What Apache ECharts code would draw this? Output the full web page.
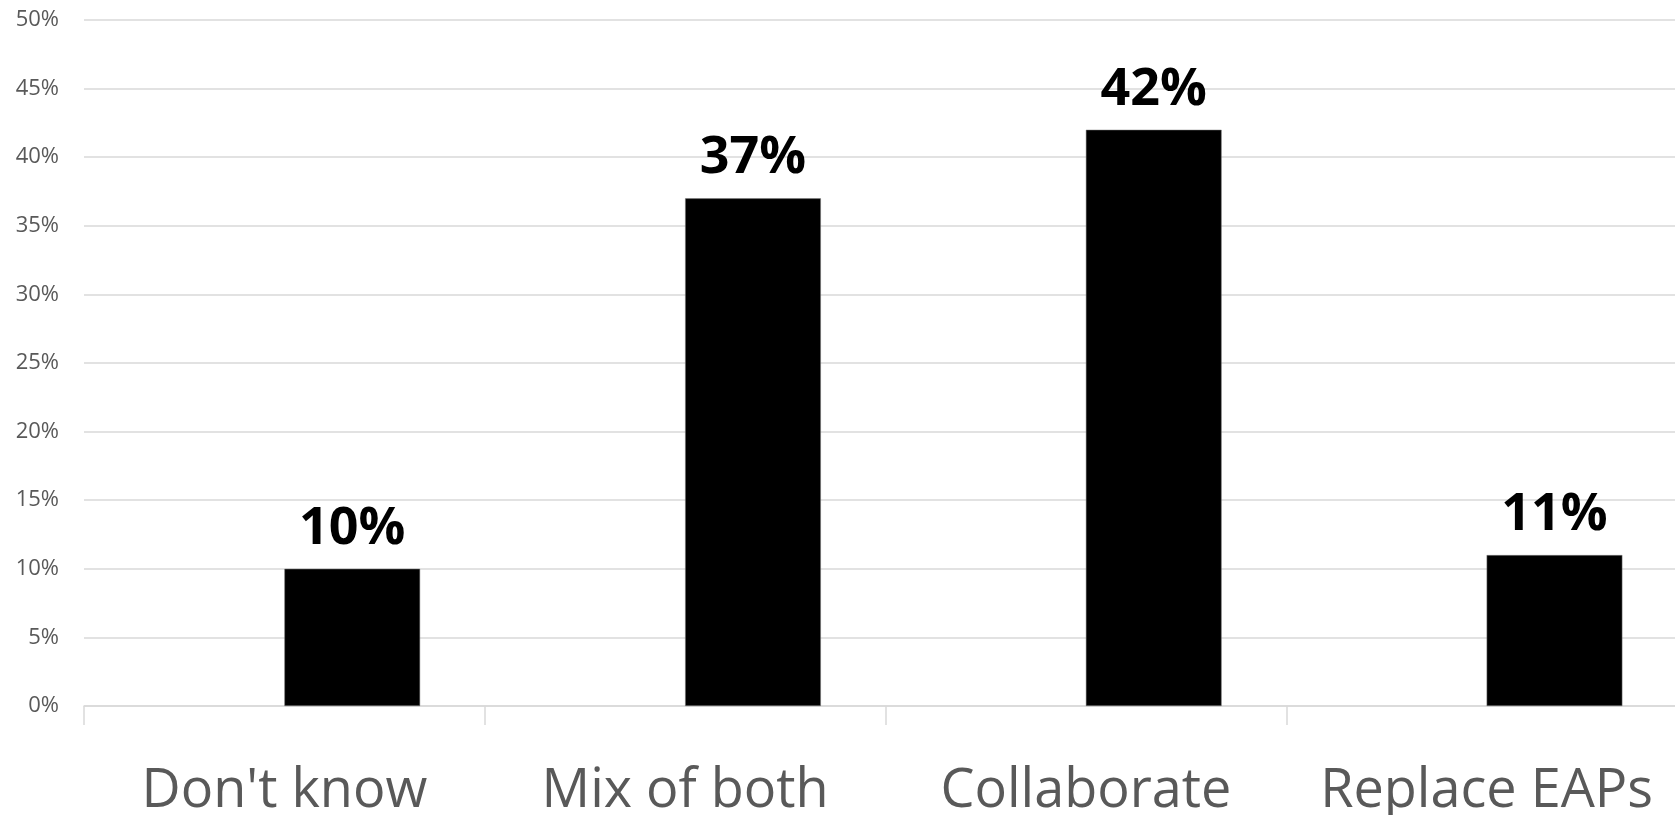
<!DOCTYPE html>
<html>
<head>
<meta charset="utf-8">
<script src="https://cdn.jsdelivr.net/npm/echarts@6/dist/echarts.min.js"></script>
<style>
html,body{margin:0;padding:0;background:#fff;}
#chart{width:1675px;height:815px;}
</style>
</head>
<body>
<div id="chart"></div>
<script>
const categories = ["Don't know", "Mix of both", "Collaborate", "Replace EAPs"];
const values = [10, 37, 42, 11];
const placeholder = [null, null, null, null];
const yTicks = { min: 0, max: 50, interval: 5 };

const chart = echarts.init(document.getElementById('chart'));
chart.setOption({
  animation: false,
  backgroundColor: '#ffffff',
  grid: { left: 84, right: -12, top: 20, bottom: 109, containLabel: false, outerBoundsMode: 'none' },
  xAxis: {
    type: 'category',
    data: categories,
    axisLine: { show: true, lineStyle: { color: '#d9d9d9', width: 1.5 } },
    axisTick: { show: true, interval: 0, length: 19, lineStyle: { color: '#d9d9d9', width: 1.5 } },
    axisLabel: { interval: 0, color: '#595959', fontFamily: 'Open Sans', fontSize: 54, margin: 59, hideOverlap: false }
  },
  yAxis: {
    type: 'value',
    min: yTicks.min, max: yTicks.max, interval: yTicks.interval,
    axisLine: { show: false },
    axisTick: { show: false },
    splitLine: { lineStyle: { color: '#d9d9d9', width: 1.5 } },
    axisLabel: { color: '#595959', fontFamily: 'Open Sans', fontSize: 22, margin: 25, formatter: '{value}%' }
  },
  series: [
    { type: 'bar', data: placeholder, barWidth: '33.87%', barGap: '0%', itemStyle: { color: '#000' } },
    {
      type: 'bar', data: values, barWidth: '33.87%', barGap: '0%',
      itemStyle: { color: '#000', borderColor: '#7f7f7f', borderWidth: 0.5 },
      label: {
        show: true, position: 'top', distance: 14, formatter: '{c}%',
        color: '#000', fontFamily: 'Open Sans', fontWeight: 'bold', fontSize: 52
      }
    }
  ]
});
</script>
</body>
</html>
